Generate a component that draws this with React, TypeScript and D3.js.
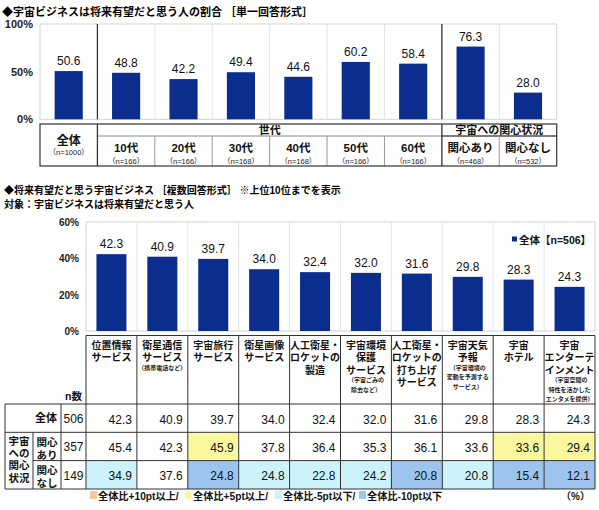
import React from "react";
import * as d3 from "d3";

const FONT = "'Liberation Sans', 'Noto Sans CJK JP', sans-serif";

// ---------- Chart 1 data ----------
const title1 = "◆宇宙ビジネスは将来有望だと思う人の割合 ［単一回答形式］";
const ageCats = ["全体", "10代", "20代", "30代", "40代", "50代", "60代", "関心あり", "関心なし"];
const ageN = ["（n=1000）", "（n=166）", "（n=166）", "（n=168）", "（n=168）", "（n=166）", "（n=166）", "（n=468）", "（n=532）"];
const ageVals = [50.6, 48.8, 42.2, 49.4, 44.6, 60.2, 58.4, 76.3, 28.0];
const ageTicks = [0, 50, 100];
const ageGroups = [
  { label: "世代", from: 1, to: 6 },
  { label: "宇宙への関心状況", from: 7, to: 8 },
];

// ---------- Chart 2 data ----------
const title2a = "◆将来有望だと思う宇宙ビジネス ［複数回答形式］ ※上位10位までを表示";
const title2b = "対象：宇宙ビジネスは将来有望だと思う人";
const bizKeys = ["b1", "b2", "b3", "b4", "b5", "b6", "b7", "b8", "b9", "b10"];
const bizLines = [
  ["位置情報", "サービス"],
  ["衛星通信", "サービス"],
  ["宇宙旅行", "サービス"],
  ["衛星画像", "サービス"],
  ["人工衛星・", "ロケットの", "製造"],
  ["宇宙環境", "保護", "サービス"],
  ["人工衛星・", "ロケットの", "打ち上げ", "サービス"],
  ["宇宙天気", "予報"],
  ["宇宙", "ホテル"],
  ["宇宙", "エンターテ", "インメント"],
];
const bizNotes = [
  [],
  ["（携帯電話など）"],
  [],
  [],
  [],
  ["（宇宙ごみの", "除去など）"],
  [],
  ["（宇宙環境の", "変動を予測する", "サービス）"],
  [],
  ["（宇宙空間の", "特性を活かした", "エンタメを提供）"],
];
const bizAll = [42.3, 40.9, 39.7, 34.0, 32.4, 32.0, 31.6, 29.8, 28.3, 24.3];
const bizYes = [45.4, 42.3, 45.9, 37.8, 36.4, 35.3, 36.1, 33.6, 33.6, 29.4];
const bizNo = [34.9, 37.6, 24.8, 24.8, 22.8, 24.2, 20.8, 20.8, 15.4, 12.1];
const bizN = [506, 357, 149];
const bizTicks = [0, 20, 40, 60];
const legend2 = "全体【n=506】";
const footItems = ["全体比+10pt以上/", "全体比+5pt以上/", "全体比-5pt以下/", "全体比-10pt以下"];

const BAR = "#0b2d8e";
const C_ORANGE = "#f7c7a0";
const C_YELLOW = "#fbf79f";
const C_CYAN = "#ccf3f9";
const C_BLUE = "#9cc4ee";
const footColors = [C_ORANGE, C_YELLOW, C_CYAN, C_BLUE];

function cellColor(v: number, base: number): string | null {
  const d = v - base;
  if (d >= 10) return C_ORANGE;
  if (d >= 5) return C_YELLOW;
  if (d <= -10) return C_BLUE;
  if (d <= -5) return C_CYAN;
  return null;
}

export default function App() {
  // ----- chart 1 geometry -----
  const x1 = d3.scaleBand<string>().domain(ageCats).range([40, 556.7]).padding(0);
  const y1 = d3.scaleLinear().domain([0, 100]).range([119.3, 24]);
  const bw1 = x1.bandwidth() * 0.49;
  const t1Top = 124, t1Mid = 136, t1Bot = 166;
  const edge1 = (i: number) => (x1(ageCats[i]) as number);
  const right1 = 556.7;

  // ----- chart 2 geometry -----
  const x2 = d3.scaleBand<string>().domain(bizKeys).range([86, 595]).padding(0);
  const y2 = d3.scaleLinear().domain([0, 60]).range([331, 222]);
  const bw2 = x2.bandwidth() * 0.59;
  const edge2 = (i: number) => (x2(bizKeys[i]) as number);
  const hTop = 335.5, hBot = 404, r1 = 432.3, r2 = 460.6, r3 = 489;
  const colL = [5, 33, 61, 86];
  const right2 = 595;

  const rowsY = [hBot, r1, r2, r3];
  const rowVals = [bizAll, bizYes, bizNo];

  return (
    <svg width={599} height={510} style={{ position: "absolute", left: 0, top: 0, background: "#fff" }} fontFamily={FONT}>
      <rect x={0} y={0} width={599} height={510} fill="#fff" />
      {/* ========== Chart 1 ========== */}
      <text x={2} y={16} fontSize={11} fontWeight="bold" fill="#000">{title1}</text>
      {/* plot frame */}
      <rect x={40} y={24} width={right1 - 40} height={119.3 - 24} fill="none" stroke="#d4d4d4" strokeWidth={1} />
      {ageCats.map((c, i) =>
        i > 0 && i !== 1 && i !== 7 ? (
          <line key={"g1" + i} x1={edge1(i)} x2={edge1(i)} y1={24} y2={119.3} stroke="#e4e4e4" strokeWidth={1} />
        ) : null
      )}
      {[1, 7].map((i) => (
        <line key={"s1" + i} x1={edge1(i)} x2={edge1(i)} y1={24} y2={119.3} stroke="#333" strokeWidth={1.3} />
      ))}
      {ageTicks.map((t) => (
        <text key={"yt1" + t} x={33} y={y1(t) + 4} textAnchor="end" fontSize={11} fontWeight="bold" fill="#222">{t}%</text>
      ))}
      {ageVals.map((v, i) => {
        const cx = (x1(ageCats[i]) as number) + x1.bandwidth() / 2;
        return (
          <g key={"b1" + i}>
            <rect x={cx - bw1 / 2} y={y1(v)} width={bw1} height={y1(0) - y1(v)} fill={BAR} />
            <text x={cx} y={y1(v) - 6} textAnchor="middle" fontSize={12} fill="#111">{v.toFixed(1)}</text>
          </g>
        );
      })}
      {/* table 1 */}
      <line x1={edge1(1)} x2={right1} y1={t1Mid} y2={t1Mid} stroke="#888" strokeWidth={1} />
      <line x1={edge1(7)} x2={right1} y1={t1Mid} y2={t1Mid} stroke="#333" strokeWidth={1} />
      {ageCats.map((c, i) =>
        i >= 2 && i !== 7 ? (
          <line key={"tv1" + i} x1={edge1(i)} x2={edge1(i)} y1={t1Mid} y2={t1Bot} stroke="#999" strokeWidth={1} />
        ) : null
      )}
      {[1, 7].map((i) => (
        <line key={"ts1" + i} x1={edge1(i)} x2={edge1(i)} y1={t1Top} y2={t1Bot} stroke="#333" strokeWidth={1.3} />
      ))}
      <rect x={40} y={t1Top} width={right1 - 40} height={t1Bot - t1Top} fill="none" stroke="#333" strokeWidth={1.2} />
      {ageGroups.map((g) => {
        const a = edge1(g.from);
        const b = g.to + 1 < ageCats.length ? edge1(g.to + 1) : right1;
        return (
          <text key={g.label} x={(a + b) / 2} y={t1Mid - 2} textAnchor="middle" fontSize={11} fontWeight="bold" fill="#111">{g.label}</text>
        );
      })}
      {ageCats.map((c, i) => {
        const cx = (x1(c) as number) + x1.bandwidth() / 2;
        if (i === 0) {
          return (
            <g key={"tl1" + i}>
              <text x={cx} y={145} textAnchor="middle" fontSize={12} fontWeight="bold" fill="#111">{c}</text>
              <text x={cx} y={155} textAnchor="middle" fontSize={7.5} fill="#222">{ageN[i]}</text>
            </g>
          );
        }
        return (
          <g key={"tl1" + i}>
            <text x={cx} y={151.5} textAnchor="middle" fontSize={11.5} fontWeight="bold" fill="#111">{c}</text>
            <text x={cx} y={164} textAnchor="middle" fontSize={7.5} fill="#222">{ageN[i]}</text>
          </g>
        );
      })}

      {/* ========== Chart 2 ========== */}
      <text x={4} y={194} fontSize={10} fontWeight="bold" fill="#000">{title2a}</text>
      <text x={4} y={207.5} fontSize={10} fontWeight="bold" fill="#000">{title2b}</text>
      <rect x={86} y={222} width={right2 - 86} height={331 - 222} fill="none" stroke="#d4d4d4" strokeWidth={1} />
      {bizKeys.map((k, i) =>
        i > 0 ? (
          <line key={"g2" + i} x1={edge2(i)} x2={edge2(i)} y1={222} y2={331} stroke="#e4e4e4" strokeWidth={1} />
        ) : null
      )}
      {bizTicks.map((t) => (
        <text key={"yt2" + t} x={79} y={y2(t) + 4} textAnchor="end" fontSize={10} fontWeight="bold" fill="#222">{t}%</text>
      ))}
      {bizAll.map((v, i) => {
        const cx = edge2(i) + x2.bandwidth() / 2;
        return (
          <g key={"b2" + i}>
            <rect x={cx - bw2 / 2} y={y2(v)} width={bw2} height={y2(0) - y2(v)} fill={BAR} />
            <text x={cx} y={y2(v) - 6} textAnchor="middle" fontSize={12} fill="#111">{v.toFixed(1)}</text>
          </g>
        );
      })}
      {/* legend */}
      <rect x={512} y={236.5} width={5} height={5} fill={BAR} />
      <text x={519} y={243.5} fontSize={10.5} fontWeight="bold" fill="#111">{legend2}</text>

      {/* table 2 cell fills */}
      {rowVals.map((vals, r) =>
        r === 0
          ? null
          : vals.map((v, i) => {
              const col = cellColor(v, bizAll[i]);
              return col ? (
                <rect key={"cf" + r + "-" + i} x={edge2(i)} y={rowsY[r]} width={x2.bandwidth()} height={rowsY[r + 1] - rowsY[r]} fill={col} />
              ) : null;
            })
      )}
      {/* table 2 lines */}
      <line x1={86} x2={right2} y1={hTop} y2={hTop} stroke="#333" strokeWidth={1} />
      <line x1={colL[0]} x2={right2} y1={hBot} y2={hBot} stroke="#333" strokeWidth={1} />
      <line x1={colL[0]} x2={right2} y1={r1} y2={r1} stroke="#333" strokeWidth={1} />
      <line x1={colL[1]} x2={right2} y1={r2} y2={r2} stroke="#333" strokeWidth={1} />
      <line x1={colL[0]} x2={right2} y1={r3} y2={r3} stroke="#333" strokeWidth={1} />
      <line x1={colL[0]} x2={colL[0]} y1={hBot} y2={r3} stroke="#333" strokeWidth={1} />
      <line x1={colL[1]} x2={colL[1]} y1={r1} y2={r3} stroke="#333" strokeWidth={1} />
      <line x1={colL[2]} x2={colL[2]} y1={hBot} y2={r3} stroke="#333" strokeWidth={1} />
      {bizKeys.map((k, i) => (
        <line key={"tv2" + i} x1={edge2(i)} x2={edge2(i)} y1={hTop} y2={r3} stroke="#333" strokeWidth={1} />
      ))}
      <line x1={right2} x2={right2} y1={hTop} y2={r3} stroke="#333" strokeWidth={1} />

      {/* header labels */}
      {bizLines.map((lines, i) => {
        const cx = edge2(i) + x2.bandwidth() / 2;
        const lastY = 348.5 + (lines.length - 1) * 12.5;
        return (
          <g key={"hl" + i}>
            {lines.map((ln, j) => (
              <text key={j} x={cx} y={348.5 + j * 12.5} textAnchor="middle" fontSize={10} fontWeight="bold" fill="#111">{ln}</text>
            ))}
            {bizNotes[i].map((nt, j) => (
              <text key={"n" + j} x={cx} y={lastY + 8.5 + j * 9.5} textAnchor="middle" fontSize={6} fontWeight="bold" fill="#222">{nt}</text>
            ))}
          </g>
        );
      })}
      <text x={73.5} y={400} textAnchor="middle" fontSize={10.5} fontWeight="bold" fill="#111">n数</text>

      {/* row labels */}
      <text x={57} y={422} textAnchor="end" fontSize={11} fontWeight="bold" fill="#111">全体</text>
      {["宇宙", "への", "関心", "状況"].map((s, j) => (
        <text key={"rl" + j} x={19} y={445 + j * 12.2} textAnchor="middle" fontSize={10.5} fontWeight="bold" fill="#111">{s}</text>
      ))}
      {["関心", "あり"].map((s, j) => (
        <text key={"ra" + j} x={47} y={445.5 + j * 13} textAnchor="middle" fontSize={10.5} fontWeight="bold" fill="#111">{s}</text>
      ))}
      {["関心", "なし"].map((s, j) => (
        <text key={"rn" + j} x={47} y={473.5 + j * 13} textAnchor="middle" fontSize={10.5} fontWeight="bold" fill="#111">{s}</text>
      ))}
      {bizN.map((n, r) => (
        <text key={"nn" + r} x={73.5} y={(rowsY[r] + rowsY[r + 1]) / 2 + 5} textAnchor="middle" fontSize={12} fill="#111">{n}</text>
      ))}
      {rowVals.map((vals, r) =>
        vals.map((v, i) => (
          <text key={"cv" + r + "-" + i} x={edge2(i) + x2.bandwidth() - 5} y={(rowsY[r] + rowsY[r + 1]) / 2 + 5.5} textAnchor="end" fontSize={12} fill="#111">{v.toFixed(1)}</text>
        ))
      )}

      {/* footer legend */}
      {footItems.map((s, i) => {
        const xs = [90, 185, 275, 359];
        return (
          <g key={"fi" + i}>
            <rect x={xs[i]} y={491} width={7} height={8} fill={footColors[i]} />
            <text x={xs[i] + 8} y={499.5} fontSize={10.2} fontWeight="bold" fill="#111">{s}</text>
          </g>
        );
      })}
      <text x={590} y={499.5} textAnchor="end" fontSize={10} fontWeight="bold" fill="#111">（%）</text>
    </svg>
  );
}
